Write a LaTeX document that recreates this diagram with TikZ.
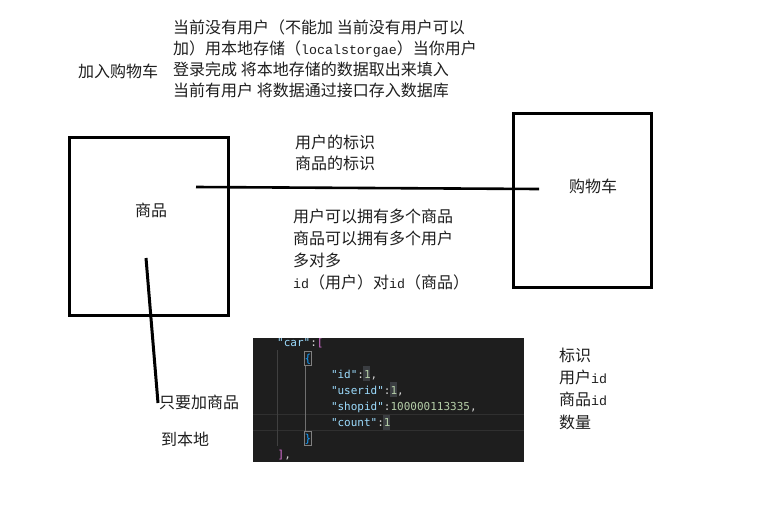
\documentclass[tikz,border=0pt]{standalone}
\usepackage{fontspec}
\setmainfont{Noto Sans CJK SC}
\newfontfamily\latmono{Liberation Mono}[Scale=0.83]
\newfontfamily\codefont{DejaVu Sans Mono}[Ligatures=TeXOff]
\newcommand{\lm}[1]{{\latmono #1}}
\definecolor{ink}{HTML}{1E1E1E}
\definecolor{codebg}{HTML}{1E1E1E}
\definecolor{ckey}{HTML}{9CDCFE}
\definecolor{cnum}{HTML}{B5CEA8}
\definecolor{cpun}{HTML}{D4D4D4}
\definecolor{cbr1}{HTML}{DA70D6}
\definecolor{cbr2}{HTML}{179FFF}
\definecolor{cguide}{HTML}{404040}
\definecolor{cguideact}{HTML}{707070}
\definecolor{cline}{HTML}{303030}
\definecolor{chl}{HTML}{3A3D41}
\tikzset{
  box/.style={draw=black, line width=3pt, inner sep=0pt},
  conn/.style={draw=black, line width=2.6pt},
  txt/.style={inner sep=0pt, text=ink, font=\fontsize{16}{21}\selectfont, align=left, anchor=base west},
  code/.style={inner sep=0pt, anchor=base west, font=\codefont\fontsize{11}{13}\selectfont},
}
\begin{document}
\begin{tikzpicture}[x=1pt,y=-1pt]
\useasboundingbox (0,0) rectangle (773,504);
\fill[white] (0,0) rectangle (773,504);

% top texts (base anchor = baseline of last line)
\node[txt] (addcart) at (78,77) {加入购物车};
\node[txt, font=\fontsize{16}{20.8}\selectfont] (notes) at (173,96) {当前没有用户（不能加 当前没有用户可以\\加）用本地存储（\lm{localstorgae}）当你用户\\登录完成 将本地存储的数据取出来填入\\当前有用户 将数据通过接口存入数据库};

% boxes
\node[box, minimum width=159pt, minimum height=178pt] (shop) at (148.5,226) {};
\node[txt, anchor=center] (shoplbl) at (151,210) {商品};
\node[box, minimum width=138pt, minimum height=174pt] (cart) at (582,200) {};
\node[txt, anchor=center] (cartlbl) at (593,186) {购物车};

% connector
\coordinate (c1) at (196,187);
\coordinate (c2) at (539,189);
\draw[conn] (c1) -- (c2);

\node[txt] (ident) at (295,169) {用户的标识\\商品的标识};
\node[txt, font=\fontsize{16}{21.7}\selectfont] (rel) at (293,288) {用户可以拥有多个商品\\商品可以拥有多个用户\\多对多\\\lm{id}（用户）对\lm{id}（商品）};

% slanted line
\coordinate (s1) at (146,258);
\coordinate (s2) at (158,403);
\draw[conn, line width=3pt] (s1) -- (s2);
\node[txt] (onlyadd) at (159,408) {只要加商品};
\node[txt] (tolocal) at (161,445) {到本地};

% code block
\node[fill=codebg, minimum width=271pt, minimum height=124pt, inner sep=0pt, anchor=north west] (codebox) at (253,338) {};
\begin{scope}
\clip (codebox.north west) rectangle (codebox.south east);
\draw[cline, line width=0.8pt] (codebox.west |- 0,414) -- (codebox.east |- 0,414);
\draw[cline, line width=0.8pt] (codebox.west |- 0,430) -- (codebox.east |- 0,430);
\draw[cguide, line width=0.8pt] (277,350) -- (277,446);
\draw[cguideact, line width=0.8pt] (305,366) -- (305,432);
\draw[gray, line width=0.6pt] (304,351) rectangle (311.5,365);
\draw[gray, line width=0.6pt] (304,431) rectangle (311.5,445);
\fill[chl] (363.3,366) rectangle (370,381);
\fill[chl] (389.8,382) rectangle (396.5,397);
\fill[chl] (383.2,414.5) rectangle (389.9,429.5);
\node[code] (l1) at (277,346) {\textcolor{ckey}{"car"}\textcolor{cpun}{:}\textcolor{cbr1}{[}};
\node[code] (l2) at (304.5,362) {\textcolor{cbr2}{\{}};
\node[code] (l3) at (330.8,378) {\textcolor{ckey}{"id"}\textcolor{cpun}{:}\textcolor{cnum}{1}\textcolor{cpun}{,}};
\node[code] (l4) at (330.8,394) {\textcolor{ckey}{"userid"}\textcolor{cpun}{:}\textcolor{cnum}{1}\textcolor{cpun}{,}};
\node[code] (l5) at (330.8,410) {\textcolor{ckey}{"shopid"}\textcolor{cpun}{:}\textcolor{cnum}{100000113335}\textcolor{cpun}{,}};
\node[code] (l6) at (330.8,426) {\textcolor{ckey}{"count"}\textcolor{cpun}{:}\textcolor{cnum}{1}};
\node[code] (l7) at (304.5,442) {\textcolor{cbr2}{\}}};
\node[code] (l8) at (277.5,458) {\textcolor{cbr1}{]}\textcolor{cpun}{,}};
\end{scope}

% right list
\node[txt, font=\fontsize{16}{22.3}\selectfont] (fields) at (559,428) {标识\\用户\lm{id}\\商品\lm{id}\\数量};
\end{tikzpicture}
\end{document}
